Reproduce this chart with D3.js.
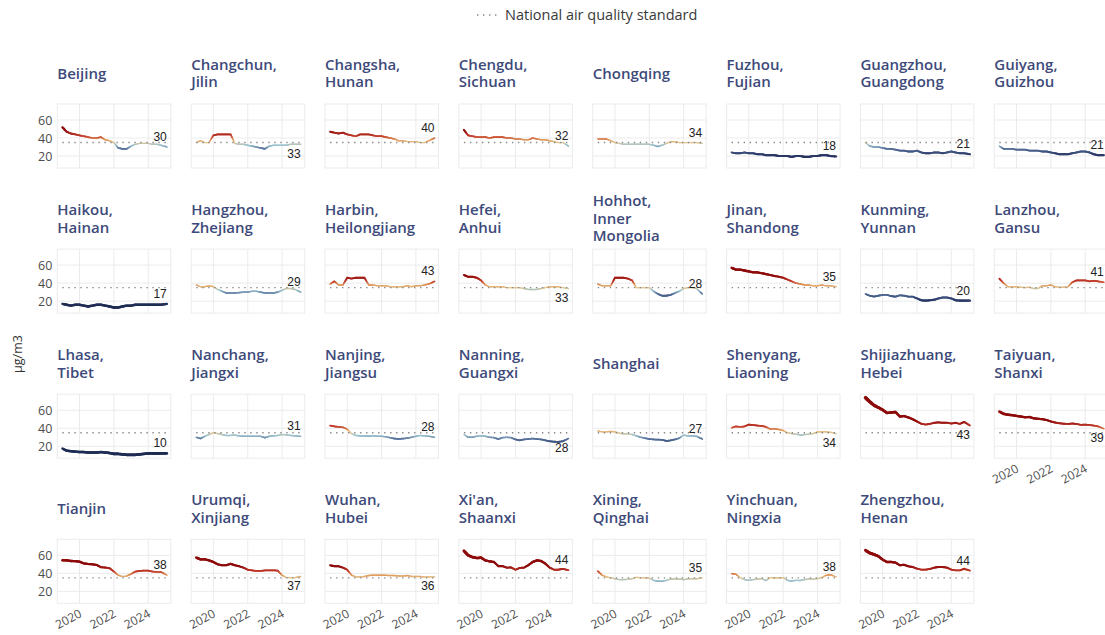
<!DOCTYPE html>
<html><head><meta charset="utf-8">
<script src="https://cdn.jsdelivr.net/npm/d3@7"></script>
<style>body{margin:0;background:#fff}svg{display:block}</style>
</head><body>
<svg id="chart" width="1105" height="635"></svg>
<script>
// ---------- data ----------
const dates = ["2019-01","2019-04","2019-07","2019-10","2020-01","2020-04","2020-07","2020-10",
  "2021-01","2021-04","2021-07","2021-10","2022-01","2022-04","2022-07","2022-10",
  "2023-01","2023-04","2023-07","2023-10","2024-01","2024-04","2024-07","2024-10","2025-02"];
const cities = ["Beijing","Changchun, Jilin","Changsha, Hunan","Chengdu, Sichuan","Chongqing","Fuzhou, Fujian","Guangzhou, Guangdong","Guiyang, Guizhou",
  "Haikou, Hainan","Hangzhou, Zhejiang","Harbin, Heilongjiang","Hefei, Anhui","Hohhot, Inner Mongolia","Jinan, Shandong","Kunming, Yunnan","Lanzhou, Gansu",
  "Lhasa, Tibet","Nanchang, Jiangxi","Nanjing, Jiangsu","Nanning, Guangxi","Shanghai","Shenyang, Liaoning","Shijiazhuang, Hebei","Taiyuan, Shanxi",
  "Tianjin","Urumqi, Xinjiang","Wuhan, Hubei","Xi'an, Shaanxi","Xining, Qinghai","Yinchuan, Ningxia","Zhengzhou, Henan"];
const beijing = [52,47,45,44,43,42,41,40,40,41,38,37,35,29,28,28,31,33,34,34,34,33,33,32,30];
const changchun = [35,37,35,35,43,44,44,44,44,34,33,33,32,31,30,29,28,31,32,32,32,32,33,33,33];
const changsha = [47,46,45,46,44,43,42,44,44,44,43,42,42,41,40,39,37,37,36,36,36,35,35,37,40];
const chengdu = [49,43,42,41,41,41,40,41,41,41,40,40,39,39,38,38,40,39,38,38,37,36,35,35,31];
const chongqing = [39,39,39,37,35,34,33,33,33,33,33,33,33,32,30.5,32,34,36,36,35,35,35,35,35,34];
const fuzhou = [24,23,23,24,23,23,22,22,21,21,21,20,20,20,19,20,20,19,19,20,20,21,21,20,19.5];
const guangzhou = [35,31,30,30,29,28,28,27,26,26,25,25,26,24,23,23,24,24,23,24,25,24,23,23,22];
const guiyang = [31,28,28,28,27,27,27,26,26,26,25,25,24,23,22,22,22,23,24,25,25,24,22,21,21];
const haikou = [17,16,15,16,16,15,14,15,16,16,15,14,13,13,14,15,15,16,16,16,16,16,16,16,17];
const hangzhou = [38,36,36,37,36,33,31,29,29,29,29.5,30,30,31,31,30,29,29,29,30,32,34,34,33,30];
const harbin = [39,42,38,38,46,45,46,46,46,38,38,37,37,37,36,36,36,36,37,36,37,37,38,39,42];
const hefei = [49,47,47,46,43,38,36,36,36,36,35,35,35,35,34,33,33,33,34,35,36,36,36,35,34];
const hohhot = [39,37,37,37,46,46,46,45,43,35,35,35,35,31,28,26,26,27,29,31,34,35,35,34,28];
const jinan = [57,55,55,54,53,52,52,51,50,49,48,47,46,44,42,40,39,38,38,37,37,38,37,37,36];
const kunming = [28,26,25,26,27,27,25.5,25,26.5,26,25,25,23,21,20.5,21,21.5,23,24,24,23,21,20.5,20.5,20.5];
const lanzhou = [45,40,36,36,36,35.5,35,35.5,34,34,37,37,38,36,35.5,35.5,36,41,43,43,43,42,42.5,42,41];
const lhasa = [17.5,15,14.5,14,13.5,13.5,13,13,13,13.5,13,12.5,11.5,11.5,11,10.5,10.5,10.5,11,11.5,12,12,12,12,12];
const nanchang = [30,28.5,31,33,35,34,33,32,32,32.5,31.5,31,31,31,31,31,29.5,31,31.5,32,33,32.5,32,31.5,31];
const nanjing = [43,42,41.5,41,39,34,32,31.5,31.5,31,31.5,31,31,30.5,29.5,28.5,28,28.5,29,30,31,32,31.5,31,30];
const nanning = [33,30,30,31,31.5,31,30,29.5,28,29.5,30,29.5,27.5,26.5,27.5,28,28.5,28,27.5,26.5,25.5,25,24.8,25.5,28.5];
const shanghai = [37,36,36,36.5,36,34.5,33.7,33.7,33,31.5,30,29,28,27.5,27.4,27,25.8,26.5,27.5,29,32.5,31.5,31.5,31,28];
const shenyang = [40.5,42,41.5,42,44,43.5,43,42.5,41.5,39,39.5,38.5,37.5,35,34,33.4,32.3,33,33.4,34,36,36,36,35.5,34];
const shijiazhuang = [74,69.5,65.5,63,60.5,57,57.5,58,53,53.5,52,50,47.5,45,44,44.8,46,46.5,46,46.2,45.2,46,44.8,47,43];
const taiyuan = [58.5,56,55,54.5,53.7,53,52.2,52.5,51,50.5,50,49.2,47.4,46.3,45.5,45,44.8,45.2,44.8,43.7,44,43.5,43,42,39.5];
const tianjin = [54.5,54.5,53.7,53.5,53,51,50.4,50,49.3,46.7,46.5,45.6,42,38,36.3,37,39.3,41.9,42.6,43,43,42,41.5,41.5,38];
const urumqi = [57.5,55.5,55.5,54.4,52.6,50,48.9,49,50.5,49,47.8,46.3,44,43.3,42.6,42.6,43.3,43.3,43.3,43,37.8,35.3,35.2,35.3,36.5];
const wuhan = [49,48,47.8,46.3,44,38,36,36,36.5,37.5,38,38,38,37.8,37.5,37.5,37,37,37.5,36.5,36.5,36.5,36,36,36];
const xian = [65,60,58,57,57.4,54.4,53.3,52.6,48,48,46.3,46.5,44,46,46.3,49,52.6,54.4,53.7,50.7,46.3,44,44,45,43.5];
const xining = [42.5,38,36,35,34,33,33,33.4,34,35.6,35,34.8,34.8,32.2,31.1,31.1,32.2,33.7,33.7,33.7,33,33.7,34,34,35];
const yinchuan = [39.6,39,35.2,33,32.2,33,33.7,34,32,35.2,34.8,34.8,35.2,32.2,31.5,32.2,32,33,33.7,33.7,34,35.2,37.8,38.5,36];
const zhengzhou = [65.6,62.6,61,59,55.2,52.6,52.6,51.9,49,49.5,47.8,47,45.2,44.1,44.1,44.8,46.3,47,47,46.3,44.1,43.3,43.3,45,43];
const series = [beijing,changchun,changsha,chengdu,chongqing,fuzhou,guangzhou,guiyang,
  haikou,hangzhou,harbin,hefei,hohhot,jinan,kunming,lanzhou,
  lhasa,nanchang,nanjing,nanning,shanghai,shenyang,shijiazhuang,taiyuan,
  tianjin,urumqi,wuhan,xian,xining,yinchuan,zhengzhou];
const latestLabels = [30,33,40,32,34,18,21,21,17,29,43,33,28,35,20,41,10,31,28,28,27,34,43,39,38,37,36,44,35,38,44];
const labelBelow = ["Changchun, Jilin","Hefei, Anhui","Nanning, Guangxi","Shenyang, Liaoning","Shijiazhuang, Hebei","Taiyuan, Shanxi","Urumqi, Xinjiang","Wuhan, Hubei"];
const standard = 35;
const yTicks = [20,40,60];
const xTickYears = [2020,2022,2024];
const legendLabel = "National air quality standard";
const yTitle = "µg/m3";

// ---------- layout ----------
const svg = d3.select("#chart");
const nCols = 8, colLeft0 = 57.3, colPitch = 133.85, rowTop0 = 104, rowPitch = 145.1;
const pw = 113.5, ph = 64;
const parse = d3.timeParse("%Y-%m");
const dts = dates.map(parse);
const x = d3.scaleTime().domain([new Date(2018,8,15), new Date(2025,3,25)]).range([0,pw]);
const y = d3.scaleLinear().domain([6.7,77.8]).range([ph,0]);
const color = d3.scaleLinear()
  .domain([15,22,28,32,35,38,42,48])
  .range(["#1e2b52","#2e3d6b","#56709a","#9cc4cf","#e5c690","#df9858","#c43d2c","#8e0b0b"])
  .clamp(true);
const width = d3.scaleLinear().domain([0,40]).range([1.3,3.6]).clamp(true);
const gridCol = "#ebebeb";
const titleFont = "'Open Sans', 'Noto Sans', sans-serif";

// legend
const lg = svg.append("g");
lg.append("line").attr("x1",477).attr("x2",497).attr("y1",15).attr("y2",15)
  .attr("stroke","#888").attr("stroke-width",1.4).attr("stroke-dasharray","1.4 4.6");
lg.append("text").attr("x",505).attr("y",20).text(legendLabel)
  .attr("font-family",titleFont).attr("font-size",14.5).attr("fill","#3a3a3a");

// y title
svg.append("text").attr("transform","translate(22,354) rotate(-90)")
  .attr("text-anchor","middle").attr("font-family",titleFont).attr("font-size",12.5)
  .attr("fill","#333").text(yTitle);

// character-based wrapping (like str_wrap)
function wrap(name, w){
  const words = name.split(" ");
  const out = []; let cur = "";
  words.forEach(wd=>{
    const t = cur ? cur+" "+wd : wd;
    if (cur && t.length > w) { out.push(cur); cur = wd; } else cur = t;
  });
  if (cur) out.push(cur);
  return out;
}

const lastRowOfCol = d3.range(nCols).map(c => Math.floor((cities.length-1-c)/nCols));

cities.forEach((name,i)=>{
  const col = i % nCols, row = Math.floor(i/nCols);
  const left = colLeft0 + col*colPitch, top = rowTop0 + row*rowPitch;
  const g = svg.append("g").attr("transform",`translate(${left},${top})`);

  // grid
  g.append("rect").attr("width",pw).attr("height",ph).attr("fill","#fff")
    .attr("stroke",gridCol).attr("stroke-width",1);
  yTicks.forEach(v=> g.append("line").attr("x1",0).attr("x2",pw).attr("y1",y(v)).attr("y2",y(v))
    .attr("stroke",gridCol).attr("stroke-width",1));
  xTickYears.forEach(yr=>{ const xx = x(new Date(yr,0,1));
    g.append("line").attr("x1",xx).attr("x2",xx).attr("y1",0).attr("y2",ph)
    .attr("stroke",gridCol).attr("stroke-width",1); });

  // data line as coloured segments
  const vals = series[i];
  const segs = [];
  for (let k=0;k<vals.length-1;k++){
    const n = 4;
    for (let s=0;s<n;s++){
      const t0 = s/n, t1 = (s+1)/n;
      const d0 = new Date(+dts[k] + (dts[k+1]-dts[k])*t0), d1 = new Date(+dts[k] + (dts[k+1]-dts[k])*t1);
      const v0 = vals[k] + (vals[k+1]-vals[k])*t0, v1 = vals[k] + (vals[k+1]-vals[k])*t1;
      segs.push({d0,d1,v0,v1,vm:(v0+v1)/2});
    }
  }
  g.append("g").selectAll("line").data(segs).join("line")
    .attr("x1",d=>x(d.d0)).attr("x2",d=>x(d.d1)).attr("y1",d=>y(d.v0)).attr("y2",d=>y(d.v1))
    .attr("stroke",d=>color(d.vm)).attr("stroke-width",d=>width(Math.abs(d.vm-standard)))
    .attr("stroke-linecap","round");

  // standard line
  g.append("line").attr("x1",x(dts[0])).attr("x2",x(dts[dts.length-1]))
    .attr("y1",y(standard)).attr("y2",y(standard))
    .attr("stroke","#888").attr("stroke-width",1.4).attr("stroke-dasharray","1.4 4.6");

  // end label
  const lastV = vals[vals.length-1];
  const below = labelBelow.includes(name);
  g.append("text").attr("x",pw-4).attr("y", below ? y(lastV)+13.5 : y(lastV)-6)
    .attr("text-anchor","end").attr("font-family","'Liberation Sans', Arial, sans-serif")
    .attr("font-size",12).attr("fill","#222").text(latestLabels[i]);

  // title (one text element per line)
  const lines = wrap(name, 10);
  const cy = -30.5;
  lines.forEach((ln,j)=> g.append("text").attr("x",0)
    .attr("y", cy + 5.2 - (lines.length-1)*8.75 + j*17.5)
    .attr("font-family",titleFont).attr("font-size",15)
    .attr("font-weight",600).attr("fill","#3d4a7a").text(ln));

  // y axis labels on first column
  if (col === 0){
    const ay = g.append("g").call(d3.axisLeft(y).tickValues(yTicks).tickSize(0).tickPadding(5));
    ay.select(".domain").remove();
    ay.selectAll("text").attr("font-family",titleFont).attr("font-size",12.5).attr("fill","#4d4d4d");
  }
  // x axis labels on bottom panel of each column
  if (row === lastRowOfCol[col]){
    xTickYears.forEach(yr=>{
      const xx = x(new Date(yr,0,1));
      g.append("text").attr("transform",`translate(${xx+3},${ph+13}) rotate(-28)`)
        .attr("text-anchor","end").attr("font-family",titleFont).attr("font-size",12)
        .attr("fill","#4d4d4d").text(yr);
    });
  }
});
</script>
</body></html>
